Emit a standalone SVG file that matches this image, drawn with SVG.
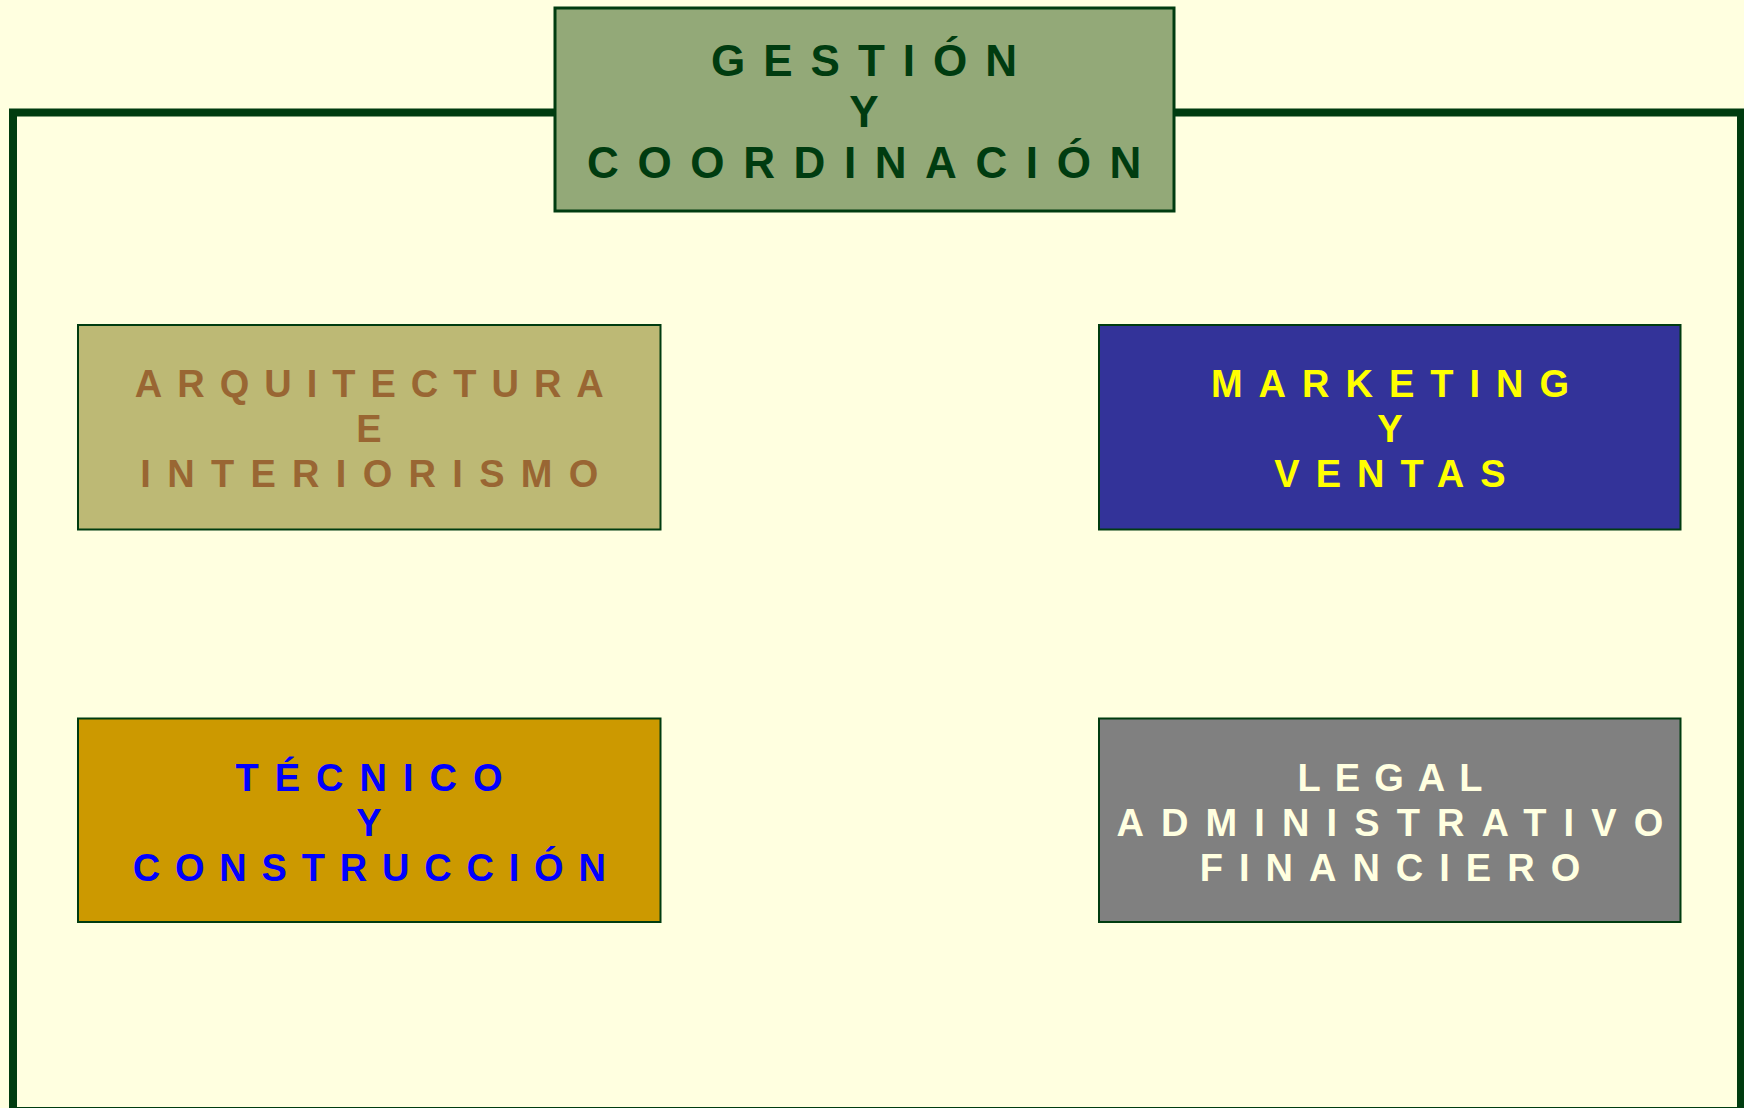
<svg xmlns="http://www.w3.org/2000/svg" width="1744" height="1108" viewBox="0 0 1744 1108">
<style>
text{font-family:"Liberation Sans",Arial,sans-serif;font-weight:bold;text-anchor:middle}
.top{font-size:44px;letter-spacing:18px;fill:#003c10}
.t{font-size:38px;letter-spacing:16px}
.box{stroke:#003c10;stroke-width:2}
</style>
<rect width="1744" height="1108" fill="#ffffe0"/>
<g id="connectors">
<path d="M554 112.5 H13 V1111 H1741 V112.5 H1175" fill="none" stroke="#003c10" stroke-width="8"/>
</g>
<g id="gestion">
<rect x="555" y="8" width="619" height="203" fill="#93a978" stroke="#003c10" stroke-width="3"/>
<text class="top" x="873" y="75.5">GESTIÓN</text>
<text class="top" x="873" y="127">Y</text>
<text class="top" x="873.5" y="178" style="letter-spacing:18.6px">COORDINACIÓN</text>
</g>
<g id="arquitectura">
<rect class="box" x="78" y="325" width="582.5" height="204.5" fill="#bdb975"/>
<text class="t" x="376.8" y="397" fill="#996633" style="letter-spacing:15px">ARQUITECTURA</text>
<text class="t" x="377" y="442" fill="#996633">E</text>
<text class="t" x="377.5" y="487" fill="#996633" style="letter-spacing:16.3px">INTERIORISMO</text>
</g>
<g id="marketing">
<rect class="box" x="1099" y="325" width="581.5" height="204.5" fill="#333399"/>
<text class="t" x="1398" y="397" fill="#ffff00">MARKETING</text>
<text class="t" x="1398" y="442" fill="#ffff00">Y</text>
<text class="t" x="1398" y="487" fill="#ffff00">VENTAS</text>
</g>
<g id="tecnico">
<rect class="box" x="78" y="718.5" width="582.5" height="203.5" fill="#cc9900"/>
<text class="t" x="377" y="790.5" fill="#0000ff">TÉCNICO</text>
<text class="t" x="377" y="835.5" fill="#0000ff">Y</text>
<text class="t" x="376.7" y="880.5" fill="#0000ff" style="letter-spacing:14.8px">CONSTRUCCIÓN</text>
</g>
<g id="legal">
<rect class="box" x="1099" y="718.5" width="581.5" height="203.5" fill="#808080"/>
<text class="t" x="1397" y="790.5" fill="#ffffe0" style="letter-spacing:14px">LEGAL</text>
<text class="t" x="1398.4" y="835.5" fill="#ffffe0" style="letter-spacing:17.1px">ADMINISTRATIVO</text>
<text class="t" x="1398" y="880.5" fill="#ffffe0">FINANCIERO</text>
</g>
</svg>
